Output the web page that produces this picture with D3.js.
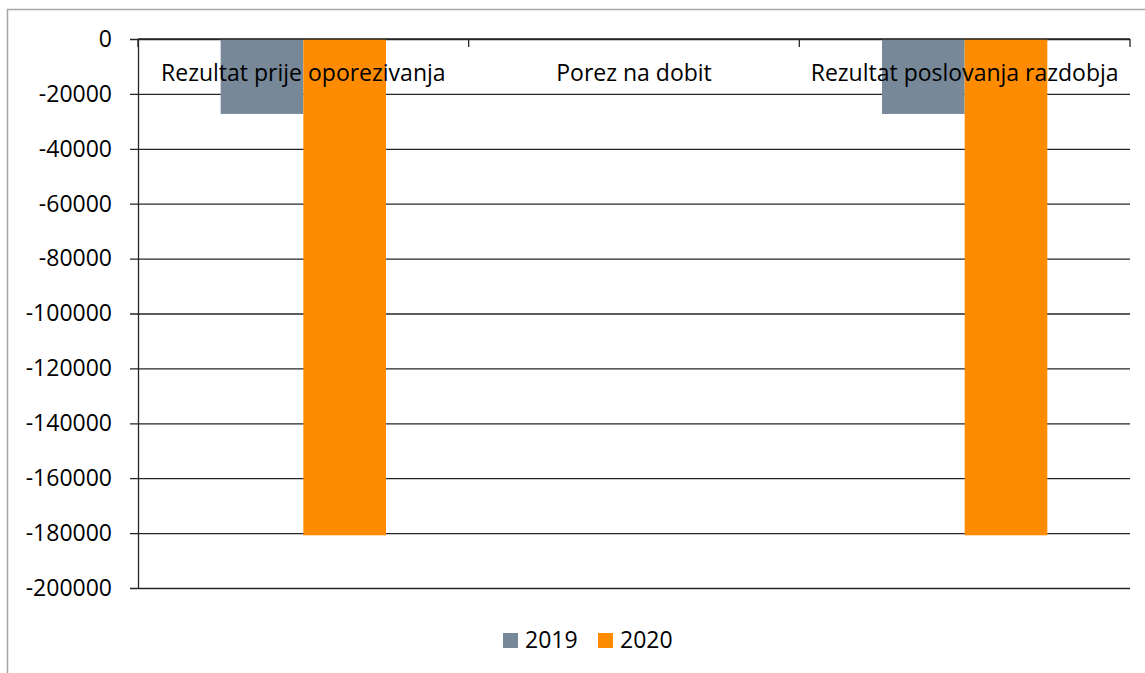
<!DOCTYPE html>
<html>
<head>
<meta charset="utf-8">
<script src="https://cdn.jsdelivr.net/npm/d3@7"></script>
<style>
body{margin:0;background:#fff;}
text{font-family:"Open Sans","Liberation Sans",sans-serif;fill:#000;}
</style>
</head>
<body>
<div class="chart"></div>
<script>
// podaci
var categories=["Rezultat prije oporezivanja","Porez na dobit","Rezultat poslovanja razdobja"];
var years=["2019","2020"];
var values2019=[-27300,0,-27300];
var values2020=[-180800,0,-180800];
var yTicks=[0,-20000,-40000,-60000,-80000,-100000,-120000,-140000,-160000,-180000,-200000];
var colors=["#778899","#ff8c00"];

var width=1145;
var height=673;
var pLeft=138,pRight=1130,pTop=39,pBottom=588;
var fontSize='23px';

var svg=d3.select('div.chart')
		.append('svg')
		.attr('width',width)
		.attr('height',height);

// okvir
svg.append('rect')
	.attr('x',7.5)
	.attr('y',9.5)
	.attr('width',1160)
	.attr('height',700)
	.attr('fill','none')
	.attr('stroke','#a6a6a6')
	.attr('stroke-width',1.5);

var xScale=d3.scaleBand()
		.domain(categories)
		.range([pLeft,pRight]);
var xInner=d3.scaleBand()
		.domain(years)
		.range([0,xScale.bandwidth()])
		.paddingOuter(1)
		.paddingInner(0);
var yScale=d3.scaleLinear()
		.domain([-200000,0])
		.range([pBottom,pTop]);

// mreža + y os
let yAxis=svg.append('g')
	.attr('transform','translate('+pLeft+',0)')
	.call(d3.axisLeft(yScale)
		.tickValues(yTicks)
		.tickSize(-(pRight-pLeft))
		.tickPadding(26)
		.tickFormat(function(d){ return d; }));
yAxis.select('.domain').remove();
yAxis.selectAll('.tick line')
	.attr('x1',-8)
	.attr('stroke','#262626')
	.attr('stroke-width',1.3);
yAxis.selectAll('.tick text')
	.attr('font-size',fontSize)
	.attr('fill','#000')
	.style('font-family','"Open Sans","Liberation Sans",sans-serif');

svg.append('line')
	.attr('x1',pLeft+0.5).attr('x2',pLeft+0.5)
	.attr('y1',pTop).attr('y2',pBottom)
	.attr('stroke','#262626')
	.attr('stroke-width',1.3);

// stupci
var series=[values2019,values2020];
series.forEach(function(vals,i){
	svg.append('g')
		.selectAll('rect')
		.data(categories)
		.enter()
		.append('rect')
		.attr('fill',colors[i])
		.attr('x',function(d){ return xScale(d)+xInner(years[i]); })
		.attr('width',xInner.bandwidth())
		.attr('y',function(d,j){ return yScale(Math.max(0,vals[j])); })
		.attr('height',function(d,j){ return Math.abs(yScale(vals[j])-yScale(0)); });
});

// x os na nuli
let xAxis=svg.append('g')
	.attr('transform','translate(0,'+yScale(0)+')')
	.call(d3.axisBottom(xScale).tickSize(0).tickFormat(''));
xAxis.select('.domain')
	.attr('d','M'+pLeft+',0H'+pRight)
	.attr('stroke','#262626')
	.attr('stroke-width',1.3);
var bounds=categories.map(function(d){ return xScale(d); }).concat([pRight]);
svg.append('g')
	.selectAll('line')
	.data(bounds)
	.enter()
	.append('line')
	.attr('x1',function(d){ return d; })
	.attr('x2',function(d){ return d; })
	.attr('y1',yScale(0))
	.attr('y2',yScale(0)+8)
	.attr('stroke','#262626')
	.attr('stroke-width',1.3);

// nazivi kategorija
svg.append('g')
	.selectAll('text')
	.data(categories)
	.enter()
	.append('text')
	.attr('x',function(d){ return xScale(d)+xScale.bandwidth()/2; })
	.attr('y',81)
	.attr('text-anchor','middle')
	.attr('font-size',fontSize)
	.text(function(d){ return d; });

// legenda
var legendX=[503,598];
years.forEach(function(y,i){
	svg.append('rect')
		.attr('x',legendX[i])
		.attr('y',633)
		.attr('width',15)
		.attr('height',15)
		.attr('fill',colors[i]);
	svg.append('text')
		.attr('x',legendX[i]+22)
		.attr('y',648)
		.attr('font-size',fontSize)
		.text(y);
});
</script>
</body>
</html>
